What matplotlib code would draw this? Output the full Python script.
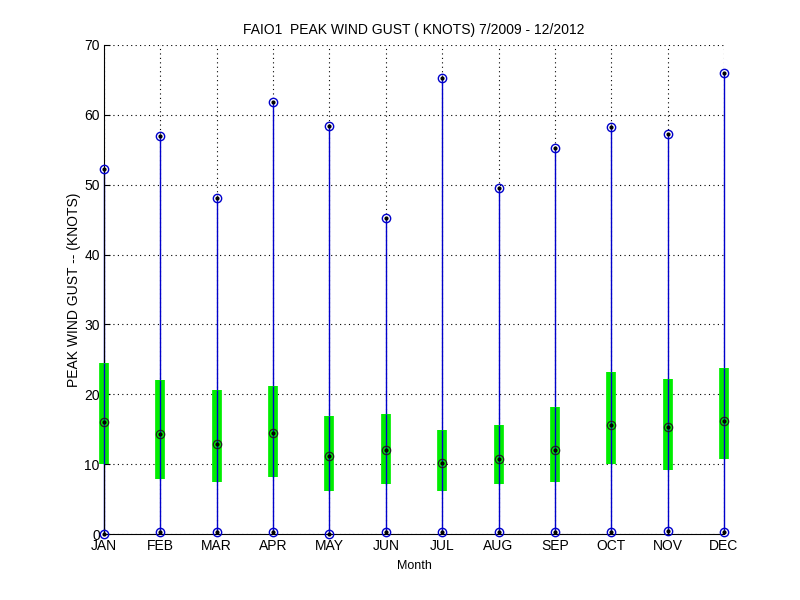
import numpy as np
import matplotlib
matplotlib.use('Agg')
import matplotlib.pyplot as plt

plt.rcParams['font.family'] = ['Liberation Sans', 'DejaVu Sans']

months = ['JAN', 'FEB', 'MAR', 'APR', 'MAY', 'JUN',
          'JUL', 'AUG', 'SEP', 'OCT', 'NOV', 'DEC']
gust_min = [0.0, 0.3, 0.3, 0.3, 0.0, 0.3, 0.3, 0.3, 0.3, 0.3, 0.5, 0.3]
gust_max = [52.2, 57.0, 48.1, 61.9, 58.4, 45.2, 65.3, 49.5, 55.2, 58.3, 57.3, 66.0]
q25 = [10.0, 7.9, 7.4, 8.1, 6.2, 7.2, 6.2, 7.1, 7.4, 10.0, 9.1, 10.7]
q75 = [24.5, 22.0, 20.6, 21.2, 16.9, 17.2, 14.9, 15.6, 18.2, 23.2, 22.2, 23.8]
median = [16.1, 14.3, 12.9, 14.4, 11.1, 12.0, 10.1, 10.8, 12.0, 15.6, 15.3, 16.2]

x = np.arange(1, 13)

fig = plt.figure(figsize=(8, 6), dpi=100)
ax = fig.add_axes([0.13, 0.11, 0.775, 0.815])

# grid (dotted, like matlab)
ax.grid(True, linestyle=(0, (1, 3)), color='black', linewidth=0.8)
ax.set_axisbelow(True)

# whisker lines min -> max
ax.vlines(x, gust_min, gust_max, color='#0000cc', linewidth=1, zorder=2, clip_on=False)
# interquartile boxes
ax.vlines(x, q25, q75, color='#00ee00', linewidth=7, zorder=3, clip_on=False)
ax.vlines(x, q25, q75, color='#0000cc', linewidth=1, zorder=4, clip_on=False)

# min/max markers
for vals in (gust_min, gust_max):
    ax.plot(x, vals, 'o', mfc='none', mec='#0000cc', ms=6, mew=1.0, zorder=5, clip_on=False)
    ax.plot(x, vals, '.', color='black', ms=4, zorder=6, clip_on=False)
# median markers
ax.plot(x, median, 'o', mfc='none', mec='#222222', ms=6, mew=0.9, zorder=5, clip_on=False)
ax.plot(x, median, '.', color='black', ms=4, zorder=6, clip_on=False)

ax.set_xlim(1, 12)
ax.set_ylim(0, 70)
ax.set_xticks(x)
ax.set_xticklabels(months)
ax.set_yticks(np.arange(0, 71, 10))
ax.tick_params(direction='in', labelsize=10, length=4, top=False, right=False)
ax.tick_params(axis='y', pad=3)

ax.spines['top'].set_visible(False)
ax.spines['right'].set_visible(False)

ax.set_title('FAIO1  PEAK WIND GUST ( KNOTS) 7/2009 - 12/2012', fontsize=10, pad=8)
ax.set_ylabel('PEAK WIND GUST -- (KNOTS)', fontsize=10, labelpad=2)
ax.set_xlabel('Month', fontsize=9, labelpad=5)

fig.savefig('out.png', dpi=100)
